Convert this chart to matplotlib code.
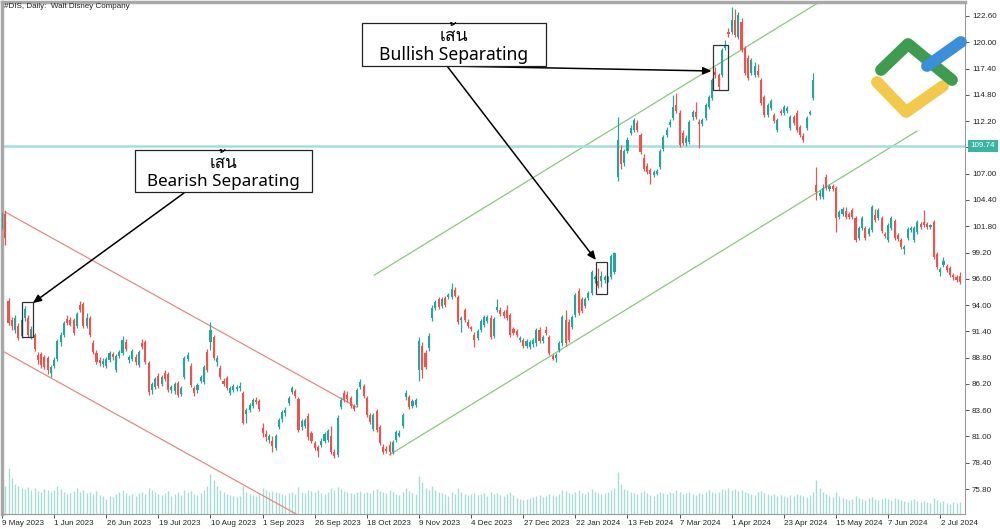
import matplotlib
matplotlib.use("Agg")
import matplotlib.pyplot as plt
import matplotlib.transforms as mtransforms
from matplotlib.patches import Rectangle
from matplotlib.lines import Line2D
import matplotlib.font_manager as fm
from matplotlib import ft2font

# ---------------- data ----------------
opens = [
    102.0, 103.0, 94.4, 92.5, 91.5, 91.9, 90.9, 92.7, 92.7, 90.8, 91.0, 89.1, 89.2, 88.9, 88.8, 87.3,
    88.0, 88.7, 90.3, 91.0, 92.6, 92.5, 92.5, 91.9, 94.0, 94.1, 91.9, 92.7, 90.2, 89.3, 88.6, 88.2,
    88.0, 88.6, 89.2, 87.6, 89.0, 89.3, 90.3, 88.6, 88.7, 88.9, 88.1, 90.2, 90.3, 88.3, 85.6, 85.9,
    87.0, 86.2, 87.3, 87.2, 85.6, 85.5, 86.3, 85.2, 86.9, 88.7, 88.0, 85.8, 85.6, 86.5, 86.4, 89.4,
    90.3, 90.8, 88.4, 87.8, 86.5, 86.8, 85.3, 85.6, 85.7, 85.8, 85.3, 83.2, 83.6, 84.0, 84.6, 84.5,
    81.8, 81.2, 80.7, 80.6, 79.9, 81.9, 82.7, 83.3, 84.3, 85.4, 85.5, 84.7, 81.9, 82.0, 83.0, 81.3,
    80.4, 80.0, 80.2, 80.6, 80.7, 81.0, 79.5, 79.2, 83.9, 85.3, 85.1, 84.8, 84.0, 84.1, 85.9, 86.0,
    84.8, 83.1, 81.7, 83.5, 81.9, 80.0, 79.8, 80.2, 79.5, 80.7, 81.0, 82.0, 84.9, 84.9, 84.0, 84.1,
    87.6, 90.0, 89.3, 89.8, 92.7, 93.7, 94.6, 93.9, 94.7, 94.8, 94.8, 95.5, 94.8, 92.5, 93.5, 92.3,
    91.8, 91.0, 90.7, 91.5, 92.0, 92.4, 92.7, 90.9, 93.5, 93.5, 93.3, 93.5, 93.0, 91.6, 91.4, 90.5,
    90.5, 90.0, 89.9, 90.1, 90.2, 91.5, 90.4, 91.5, 90.8, 89.0, 88.8, 89.6, 90.2, 92.5, 92.3, 91.8,
    93.0, 95.4, 94.6, 93.9, 94.7, 95.2, 96.6, 96.4, 96.4, 96.5, 96.6, 96.8, 97.3, 106.7, 109.3, 108.1,
    109.2, 111.0, 111.3, 112.0, 110.8, 108.6, 107.8, 107.4, 106.9, 107.0, 107.7, 109.4, 110.8, 111.8, 112.5, 113.8,
    113.0, 111.0, 110.0, 110.1, 112.6, 113.1, 112.1, 111.9, 112.5, 113.6, 114.5, 117.1, 116.8, 116.8, 119.4, 121.0,
    121.0, 122.2, 120.5, 122.0, 119.4, 118.4, 117.0, 116.8, 117.2, 116.3, 114.6, 112.8, 113.5, 112.8, 111.3, 113.2,
    113.0, 113.2, 111.5, 112.6, 113.0, 111.6, 110.7, 111.5, 112.9, 114.5, 105.9, 104.8, 104.7, 106.7, 105.5, 105.8,
    105.6, 102.7, 103.0, 103.3, 103.0, 103.4, 102.6, 100.6, 101.6, 101.6, 101.0, 101.4, 102.9, 102.6, 102.6, 101.0,
    100.4, 101.6, 102.3, 100.9, 100.4, 99.5, 100.6, 101.4, 100.4, 101.2, 102.0, 102.2, 102.0, 101.7, 102.2, 99.1,
    97.3, 98.0, 97.9, 97.7, 97.0, 96.8, 96.9,
]
highs = [
    103.2, 103.4, 94.7, 92.8, 93.0, 92.2, 92.7, 93.9, 93.0, 91.9, 91.2, 89.4, 89.4, 89.1, 89.0, 88.1,
    88.9, 90.6, 91.3, 92.4, 93.0, 92.8, 92.7, 93.3, 94.4, 94.3, 93.2, 92.9, 90.5, 89.6, 88.9, 88.8,
    88.9, 89.5, 89.4, 89.2, 89.6, 90.9, 90.6, 89.1, 89.7, 89.2, 89.6, 90.6, 90.5, 88.5, 86.4, 86.9,
    87.3, 87.1, 87.6, 87.4, 86.1, 86.4, 86.5, 86.0, 89.0, 89.4, 88.3, 86.0, 86.3, 87.1, 88.1, 89.7,
    92.3, 91.0, 89.1, 88.1, 86.8, 87.0, 86.0, 86.2, 86.1, 86.4, 85.5, 83.8, 84.3, 84.8, 84.9, 84.7,
    82.3, 81.6, 81.2, 81.0, 81.2, 82.8, 83.6, 83.9, 85.0, 86.0, 85.7, 84.9, 82.7, 82.8, 83.3, 81.5,
    80.6, 80.2, 80.8, 81.4, 81.7, 82.0, 79.8, 83.1, 84.9, 85.6, 85.5, 85.0, 84.2, 85.8, 86.7, 86.2,
    85.0, 83.3, 83.3, 83.7, 82.1, 80.3, 80.1, 80.6, 80.7, 81.6, 81.6, 83.3, 85.6, 85.1, 84.7, 84.8,
    90.8, 90.3, 89.6, 91.2, 94.0, 94.5, 94.8, 94.8, 94.9, 95.2, 96.2, 95.8, 95.0, 92.9, 93.7, 92.6,
    91.9, 91.3, 91.6, 92.6, 93.0, 93.0, 93.0, 92.8, 94.6, 93.8, 93.5, 94.0, 93.2, 91.8, 91.6, 90.9,
    90.7, 90.6, 90.5, 90.7, 91.7, 91.8, 91.0, 91.9, 91.0, 89.2, 89.3, 90.4, 93.0, 93.5, 92.6, 93.0,
    95.2, 95.7, 94.8, 94.8, 95.4, 97.5, 97.0, 97.7, 97.4, 97.0, 96.9, 99.1, 99.3, 112.6, 109.8, 109.4,
    110.6, 111.8, 112.5, 112.3, 111.0, 108.9, 108.1, 107.6, 107.4, 107.5, 109.4, 110.8, 111.6, 112.4, 114.8, 115.0,
    113.3, 111.3, 110.8, 112.3, 113.3, 114.1, 112.4, 112.5, 114.0, 114.8, 116.5, 117.6, 117.0, 119.4, 120.2, 121.4,
    123.5, 123.3, 123.0, 122.4, 119.6, 118.7, 118.4, 118.0, 117.9, 116.5, 114.8, 114.0, 114.4, 113.0, 112.5, 113.4,
    113.8, 113.7, 112.8, 112.8, 113.3, 111.8, 111.0, 112.7, 113.3, 117.0, 107.7, 105.4, 106.0, 107.0, 106.0, 106.0,
    105.8, 103.4, 103.7, 103.7, 103.2, 103.6, 102.8, 101.8, 102.8, 101.8, 101.7, 103.9, 103.5, 103.6, 102.8, 101.2,
    102.1, 102.8, 102.5, 101.1, 100.6, 99.9, 101.7, 101.8, 101.8, 102.4, 102.2, 103.4, 102.2, 102.0, 102.4, 99.3,
    97.8, 98.8, 98.1, 97.9, 97.2, 97.0, 97.3,
]
lows = [
    101.5, 99.9, 92.0, 91.5, 91.2, 90.5, 90.7, 92.4, 90.8, 90.6, 89.5, 88.2, 87.8, 87.7, 87.2, 86.9,
    87.8, 88.5, 90.0, 90.8, 92.0, 91.9, 91.0, 91.7, 93.3, 91.7, 91.7, 90.8, 89.2, 88.2, 88.0, 87.9,
    87.8, 88.4, 88.6, 87.4, 88.8, 89.1, 89.5, 88.3, 88.5, 88.1, 87.9, 89.7, 88.2, 85.1, 85.2, 85.7,
    85.8, 86.0, 86.5, 85.4, 85.3, 85.2, 84.9, 85.0, 86.7, 88.5, 85.9, 85.0, 85.3, 86.3, 86.2, 87.4,
    89.6, 88.6, 88.0, 86.7, 86.0, 85.6, 85.1, 85.4, 85.5, 85.5, 82.2, 82.3, 83.4, 83.8, 84.2, 83.5,
    80.9, 80.6, 80.4, 79.5, 79.7, 81.7, 82.4, 83.0, 84.1, 85.2, 84.8, 81.4, 81.6, 81.8, 80.7, 80.4,
    79.7, 79.0, 80.0, 80.4, 80.5, 79.3, 78.9, 79.0, 83.7, 84.4, 84.4, 83.8, 83.5, 83.9, 85.7, 84.8,
    82.9, 82.2, 81.5, 81.4, 80.2, 79.3, 79.4, 79.2, 79.3, 80.5, 80.9, 81.8, 84.6, 83.7, 83.8, 83.9,
    86.5, 86.8, 87.7, 89.5, 92.4, 93.5, 93.6, 93.7, 93.8, 94.6, 94.6, 94.8, 92.1, 91.3, 92.3, 91.7,
    91.4, 89.9, 90.5, 91.3, 91.8, 92.2, 90.6, 90.7, 93.3, 92.9, 92.7, 92.5, 90.8, 91.0, 90.8, 90.3,
    89.8, 89.8, 89.7, 89.9, 90.0, 90.2, 90.2, 91.0, 89.1, 88.6, 88.4, 89.4, 90.0, 90.0, 90.3, 91.6,
    92.8, 93.0, 93.2, 93.7, 94.5, 95.0, 96.2, 95.7, 95.8, 96.2, 96.3, 96.6, 97.1, 106.3, 107.5, 107.8,
    109.0, 110.8, 111.1, 111.1, 108.9, 107.3, 107.0, 106.0, 106.7, 106.9, 107.5, 109.2, 110.6, 111.6, 112.3, 113.0,
    109.6, 109.8, 109.7, 109.9, 112.3, 112.4, 109.5, 111.7, 112.3, 113.4, 114.3, 116.5, 115.3, 116.6, 119.2, 120.5,
    120.8, 120.5, 120.3, 119.0, 116.8, 116.3, 116.8, 116.6, 116.6, 113.8, 112.6, 112.6, 113.3, 112.0, 111.1, 112.8,
    112.8, 113.0, 111.3, 111.8, 111.1, 110.6, 110.1, 111.3, 112.8, 114.3, 104.4, 104.5, 104.5, 105.4, 105.3, 105.3,
    101.2, 102.5, 102.8, 102.5, 102.5, 102.5, 100.2, 100.4, 101.4, 100.4, 100.8, 101.2, 102.2, 102.4, 101.1, 100.6,
    100.2, 101.4, 100.4, 100.3, 99.5, 99.1, 100.4, 101.2, 100.2, 101.0, 101.5, 101.7, 101.5, 101.5, 98.6, 97.6,
    96.9, 97.8, 97.3, 96.8, 96.5, 96.3, 96.1,
]
closes = [
    102.8, 100.6, 92.2, 91.9, 92.7, 90.7, 92.5, 93.6, 91.0, 91.6, 89.7, 88.6, 88.1, 87.9, 87.6, 87.9,
    88.6, 90.4, 91.0, 92.2, 92.2, 92.0, 91.2, 93.1, 93.5, 91.9, 92.7, 91.0, 89.4, 88.4, 88.3, 88.5,
    88.7, 89.3, 88.9, 89.0, 89.4, 90.5, 89.7, 88.9, 89.5, 88.4, 89.4, 89.9, 88.4, 85.4, 86.2, 86.7,
    86.0, 86.9, 86.7, 85.6, 85.9, 86.2, 85.1, 85.8, 88.8, 89.1, 86.1, 85.3, 86.1, 86.9, 87.9, 87.6,
    91.5, 88.8, 88.8, 86.9, 86.2, 85.8, 85.8, 86.0, 85.9, 86.0, 82.3, 83.6, 84.1, 84.6, 84.4, 83.7,
    81.3, 80.9, 81.0, 80.1, 81.0, 82.6, 83.4, 83.6, 84.8, 85.8, 85.0, 81.6, 82.5, 82.6, 80.9, 80.6,
    79.9, 79.6, 80.6, 81.2, 81.5, 79.5, 79.1, 82.8, 84.6, 84.6, 84.7, 84.0, 83.7, 85.6, 86.4, 85.0,
    83.1, 82.4, 83.1, 81.6, 80.4, 79.5, 79.6, 79.5, 80.5, 81.4, 81.3, 83.1, 85.3, 83.9, 84.5, 84.6,
    90.4, 87.6, 87.9, 90.9, 93.7, 94.3, 93.8, 94.6, 94.0, 95.0, 95.6, 94.9, 92.3, 92.7, 92.5, 91.9,
    91.6, 90.5, 91.4, 92.4, 92.8, 92.8, 90.8, 92.6, 93.8, 93.1, 92.9, 92.7, 91.0, 91.2, 91.0, 90.7,
    90.0, 90.4, 90.3, 90.5, 91.5, 90.4, 90.8, 91.2, 89.3, 88.7, 89.1, 90.2, 92.8, 90.2, 90.5, 92.8,
    95.0, 93.2, 93.4, 94.6, 95.2, 97.3, 96.8, 95.9, 96.9, 96.8, 96.7, 98.9, 99.2, 110.3, 108.0, 109.2,
    110.3, 111.5, 112.3, 111.3, 109.1, 107.5, 107.2, 107.0, 107.2, 107.3, 109.2, 110.6, 111.3, 112.1, 113.6, 113.2,
    109.8, 110.0, 110.5, 112.1, 113.1, 112.6, 111.9, 112.3, 113.8, 114.6, 116.3, 116.8, 115.6, 119.2, 119.7, 120.8,
    122.2, 120.7, 122.7, 119.2, 117.0, 116.5, 118.2, 117.7, 116.8, 114.0, 112.8, 113.8, 114.2, 112.2, 112.3, 113.0,
    113.6, 113.5, 112.6, 112.0, 111.3, 110.8, 110.3, 112.5, 113.1, 116.3, 105.2, 105.1, 105.6, 105.6, 105.8, 105.5,
    102.6, 103.2, 103.5, 102.7, 102.7, 102.7, 100.4, 101.6, 102.6, 100.6, 101.5, 103.7, 102.4, 103.4, 101.3, 100.8,
    101.9, 102.6, 100.6, 100.5, 99.7, 99.7, 101.5, 101.6, 101.6, 102.2, 101.7, 101.9, 101.7, 101.9, 98.8, 97.8,
    97.6, 98.4, 97.5, 97.0, 96.8, 96.5, 96.3,
]
volumes = [
    30, 28, 46, 36, 30, 28, 26, 25, 27, 24, 26, 23, 22, 25, 24, 22,
    24, 28, 25, 22, 20, 21, 23, 26, 22, 24, 21, 22, 20, 23, 19, 18,
    15, 18, 17, 20, 22, 24, 21, 19, 20, 18, 21, 22, 20, 26, 24, 22,
    20, 19, 21, 23, 18, 20, 22, 19, 24, 22, 23, 20, 19, 21, 24, 28,
    40, 34, 28, 24, 22, 20, 19, 18, 17, 18, 28, 22, 20, 19, 18, 20,
    26, 24, 22, 23, 22, 21, 20, 19, 21, 22, 20, 27, 22, 21, 24, 23,
    22, 24, 21, 20, 22, 26, 24, 27, 25, 23, 22, 21, 20, 22, 23, 21,
    22, 21, 24, 25, 23, 22, 21, 24, 22, 20, 19, 22, 26, 23, 21, 20,
    38, 32, 26, 24, 28, 24, 22, 21, 20, 18, 22, 20, 26, 22, 20, 19,
    20, 21, 19, 20, 21, 18, 22, 20, 21, 19, 18, 20, 22, 19, 16, 15,
    14, 15, 16, 17, 18, 19, 17, 18, 20, 19, 18, 20, 24, 23, 21, 20,
    22, 24, 21, 20, 22, 25, 22, 21, 20, 21, 22, 24, 26, 42, 30, 25,
    24, 22, 21, 20, 22, 23, 21, 19, 18, 20, 22, 21, 20, 22, 21, 24,
    22, 20, 21, 22, 20, 19, 21, 20, 22, 24, 22, 21, 22, 25, 24, 26,
    24, 25, 23, 24, 22, 21, 20, 19, 22, 23, 21, 20, 19, 20, 18, 19,
    18, 17, 19, 18, 20, 19, 18, 17, 19, 22, 34, 26, 22, 20, 18, 17,
    22, 18, 16, 15, 14, 15, 18, 16, 15, 14, 16, 17, 15, 14, 15, 16,
    15, 14, 16, 15, 14, 13, 12, 14, 15, 13, 12, 13, 12, 11, 16, 14,
    12, 13, 11, 10, 12, 11, 12,
]
tick_bars = [0, 16, 32, 48, 64, 80, 96, 112, 128, 144, 160, 176, 192, 208, 224, 240, 256, 272, 288]
tick_labels = ["9 May 2023", "1 Jun 2023", "26 Jun 2023", "19 Jul 2023", "10 Aug 2023",
               "1 Sep 2023", "26 Sep 2023", "18 Oct 2023", "9 Nov 2023", "4 Dec 2023",
               "27 Dec 2023", "22 Jan 2024", "13 Feb 2024", "7 Mar 2024", "1 Apr 2024",
               "23 Apr 2024", "15 May 2024", "7 Jun 2024", "2 Jul 2024"]
price_ticks = [75.80, 78.40, 81.00, 83.60, 86.20, 88.80, 91.40, 94.00, 96.60, 99.20,
               101.80, 104.40, 107.00, 109.60, 112.20, 114.80, 117.40, 120.00, 122.60]
hline_price = 109.74

# trend channels: (bar, price) anchors
red_upper = ([0.98, 108.8], [103.21, 83.91])
red_lower = ([0.67, 95.0], [89.36, 72.48])
green_upper = ([114.3, 252.0], [96.97, 124.2])
green_lower = ([119.0, 280.9], [79.2, 111.22])

# pattern boxes: (bar_from, bar_to, price_low, price_high)
pattern_boxes = [(6.2, 9.5, 90.8, 94.35), (182.4, 185.6, 95.1, 98.3), (218.4, 222.7, 115.3, 119.7)]

# ---------------- fonts ----------------
installed = {f.name for f in fm.fontManager.ttflist}

def find_thai_font():
    preferred, others = [], []
    for f in fm.fontManager.ttflist:
        try:
            cm = ft2font.FT2Font(f.fname).get_charmap()
        except Exception:
            continue
        if 0x0E40 in cm and 0x0E2A in cm:
            if "Thai" in f.name or "Loma" in f.name or "Garuda" in f.name:
                preferred.append(f.name)
            else:
                others.append(f.name)
    if preferred:
        return preferred[0]
    if others:
        return others[0]
    return None

thai = find_thai_font()
thai_family = [thai, "DejaVu Sans"] if thai else ["DejaVu Sans"]
label_family = ["Noto Sans", "DejaVu Sans"]

if "Liberation Sans Narrow" in installed:
    small_family = ["Liberation Sans Narrow", "DejaVu Sans"]
    small_size = 7.0
elif "DejaVu Sans Condensed" in installed:
    small_family = ["DejaVu Sans Condensed", "DejaVu Sans"]
    small_size = 6.0
else:
    small_family = ["Liberation Sans", "DejaVu Sans"]
    small_size = 5.8

# ---------------- figure ----------------
W, H = 1000, 529
fig = plt.figure(figsize=(10, 5.29), dpi=100)
fig.patch.set_facecolor("white")

def fx(px):
    return px / W

def fy(py):
    return 1 - py / H

rect = [fx(2), fy(514), fx(965) - fx(2), fy(2) - fy(514)]
axv = fig.add_axes(rect)
ax = fig.add_axes(rect, sharex=axv)
ax.set_facecolor("none")
axv.set_zorder(0)
ax.set_zorder(1)

n = len(closes)
xs = list(range(n))

# volumes
axv.vlines(xs, 0, volumes, color="#a9dcd7", lw=1.0)
axv.set_ylim(0, 512)
axv.axis("off")

ax.set_xlim(0.674, 295.6)
ax.set_ylim(73.33, 123.985)

# trend lines
ax.plot(*red_upper, color="#e58a86", lw=0.9, zorder=2)
ax.plot(*red_lower, color="#e58a86", lw=0.9, zorder=2)
ax.plot(*green_upper, color="#8dc77f", lw=0.9, zorder=2)
ax.plot(*green_lower, color="#8dc77f", lw=0.9, zorder=2)

# horizontal level
ax.axhline(hline_price, color="#a6dbe1", lw=1.8, zorder=2)

# candles
UP, DN = "#26a69a", "#ef5350"
for i in xs:
    o, h, l, c = opens[i], highs[i], lows[i], closes[i]
    col = UP if c >= o else DN
    ax.vlines(i, l, h, color=col, lw=0.9, zorder=3)
    bot = min(o, c)
    hgt = max(abs(c - o), 0.08)
    ax.add_patch(Rectangle((i - 0.32, bot), 0.64, hgt, facecolor=col, edgecolor="none", zorder=4))

# pattern boxes
for b0, b1, p0, p1 in pattern_boxes:
    ax.add_patch(Rectangle((b0, p0), b1 - b0, p1 - p0, fill=False, edgecolor="#333333", lw=0.9, zorder=5))

# axes styling
for s in ["left", "top"]:
    ax.spines[s].set_color("#a8a8a8")
    ax.spines[s].set_linewidth(2.5)
for s in ["right", "bottom"]:
    ax.spines[s].set_color("#9a9a9a")
    ax.spines[s].set_linewidth(0.8)

ax.yaxis.tick_right()
ax.set_yticks(price_ticks)
# the 109.60 label is covered by the 109.74 price tag in the reference
ax.set_yticklabels(["" if abs(v - hline_price) < 0.5 else f"{v:.2f}" for v in price_ticks])
ax.tick_params(axis="y", which="both", direction="out", length=3, width=0.7, colors="#555555",
               labelcolor="#222222", labelsize=small_size, pad=2)
ax.set_xticks(tick_bars)
ax.set_xticklabels(tick_labels, ha="left")
ax.tick_params(axis="x", direction="out", length=3, width=0.7, colors="#555555",
               labelcolor="#222222", labelsize=small_size, pad=1.5)
for lab in ax.get_xticklabels() + ax.get_yticklabels():
    lab.set_family(small_family)
offset = mtransforms.ScaledTranslation(0.3 / 100, 0, fig.dpi_scale_trans)
for lab in ax.get_xticklabels():
    lab.set_transform(lab.get_transform() + offset)

# price tag
trans = mtransforms.blended_transform_factory(ax.transAxes, ax.transData)
ax.text(1.006, hline_price, f"{hline_price:.2f}", transform=trans, ha="left", va="center",
        fontsize=small_size, family=small_family, color="white", zorder=10, clip_on=False,
        bbox=dict(boxstyle="square,pad=0.35", fc="#3bb3a3", ec="none"))

# title
fig.text(fx(4), fy(7), "#DIS, Daily:  Walt Disney Company", fontsize=small_size,
         family=small_family, color="#222222", va="center", ha="left")

# annotation text boxes
def text_box(x0, y0, x1, y1, line1, line2, size):
    fig.patches.append(Rectangle((fx(x0), fy(y1)), fx(x1) - fx(x0), fy(y0) - fy(y1),
                                 transform=fig.transFigure, facecolor="white",
                                 edgecolor="#222222", lw=0.9, zorder=20))
    cx = (x0 + x1) / 2
    fig.text(fx(cx), fy(y0 + 12), line1, family=thai_family, fontsize=size, ha="center",
             va="center", color="black", zorder=21)
    fig.text(fx(cx), fy(y0 + 32), line2, family=label_family, fontsize=size, ha="center",
             va="center", color="black", zorder=21)

text_box(135, 150, 312, 192, "เส้น", "Bearish Separating", 12.3)
text_box(362, 23, 546, 66, "เส้น", "Bullish Separating", 12.6)

# arrows (tip in data coords, tail at text boxes)
arrow_kw = dict(arrowstyle="-|>,head_length=0.5,head_width=0.22", color="black", lw=1.1,
                shrinkA=0, shrinkB=0)
ax.annotate("", xy=(9.45, 94.2), xycoords="data", xytext=(fx(184), fy(193)),
            textcoords="figure fraction", arrowprops=arrow_kw, zorder=15)
ax.annotate("", xy=(182.3, 98.46), xycoords="data", xytext=(fx(447), fy(66)),
            textcoords="figure fraction", arrowprops=arrow_kw, zorder=15)
ax.annotate("", xy=(217.8, 117.16), xycoords="data", xytext=(fx(447), fy(66)),
            textcoords="figure fraction", arrowprops=arrow_kw, zorder=15)

# logo (approximate)
def stroke(pts, color):
    xs_ = [fx(p[0]) for p in pts]
    ys_ = [fy(p[1]) for p in pts]
    fig.lines.append(Line2D(xs_, ys_, transform=fig.transFigure, color=color, lw=8.5,
                            solid_capstyle="round", solid_joinstyle="round", zorder=30))

stroke([(877, 82), (906, 112), (943, 86)], "#f2c94c")
stroke([(881, 70), (908, 44), (952, 80)], "#3e9b4f")
stroke([(927, 66), (961, 42)], "#3a8fd8")

fig.savefig("out.png", dpi=100)
